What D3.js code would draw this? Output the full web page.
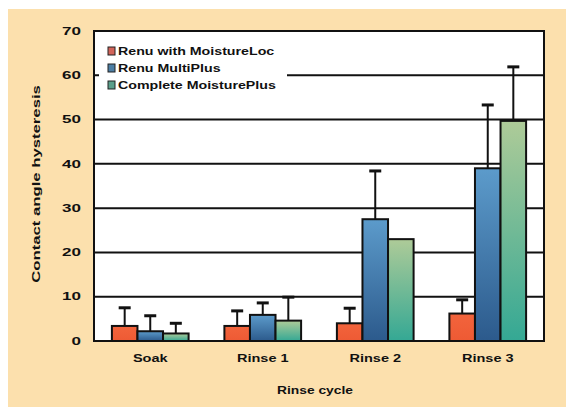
<!DOCTYPE html>
<html>
<head>
<meta charset="utf-8">
<script src="https://cdn.jsdelivr.net/npm/d3@7"></script>
<style>
  html, body { margin: 0; padding: 0; background: #ffffff; }
  text { font-family: "Liberation Sans", Arial, sans-serif; font-weight: bold; fill: #111; }
</style>
</head>
<body>
<div id="chart"></div>
<script>
// data
var categories = ['Soak', 'Rinse 1', 'Rinse 2', 'Rinse 3'];
var series = ['Renu with MoistureLoc', 'Renu MultiPlus', 'Complete MoisturePlus'];
var renuMoistureLoc = [3.4, 3.4, 4.0, 6.2];
var renuMoistureLocErr = [4.1, 3.4, 3.4, 3.1];
var renuMultiPlus = [2.2, 5.9, 27.5, 39.0];
var renuMultiPlusErr = [3.5, 2.7, 10.9, 14.3];
var completeMoisturePlus = [1.7, 4.6, 23.0, 49.7];
var completeMoisturePlusErr = [2.3, 5.3, 0, 12.2];
var yTicks = [0, 10, 20, 30, 40, 50, 60, 70];

var values = [renuMoistureLoc, renuMultiPlus, completeMoisturePlus];
var errors = [renuMoistureLocErr, renuMultiPlusErr, completeMoisturePlusErr];

var chart_width = 566;
var chart_height = 407;
var plot = { left: 94, right: 544, top: 31, bottom: 341 };

var svg = d3.select('#chart')
  .append('svg')
  .attr('width', chart_width)
  .attr('height', chart_height);

// gradients for the bars
var defs = svg.append('defs');
function vGrad(id, top, bottom) {
  var g = defs.append('linearGradient').attr('id', id)
    .attr('x1', 0).attr('y1', 0).attr('x2', 0).attr('y2', 1);
  g.append('stop').attr('offset', '0%').attr('stop-color', top);
  g.append('stop').attr('offset', '100%').attr('stop-color', bottom);
}
vGrad('gRed', '#f2643c', '#ee5a34');
vGrad('gBlue', '#5c9bcb', '#2c5a8c');
vGrad('gGreen', '#aecb98', '#34a894');
var fills = ['url(#gRed)', 'url(#gBlue)', 'url(#gGreen)'];
var legendFills = ['#d2645a', '#4c7ea4', '#5a9e8a'];

// stretch text horizontally, the source font is very wide
function stretch(sel, k) {
  sel.each(function() {
    var w = this.getComputedTextLength();
    d3.select(this).attr('textLength', w * k).attr('lengthAdjust', 'spacingAndGlyphs');
  });
}

// background
svg.append('rect')
  .attr('x', 8).attr('y', 9)
  .attr('width', chart_width - 8).attr('height', chart_height - 9)
  .attr('fill', '#fce0ad');
svg.append('rect')
  .attr('x', plot.left).attr('y', plot.top)
  .attr('width', plot.right - plot.left).attr('height', plot.bottom - plot.top)
  .attr('fill', '#ffffff');

// scales
var y_scale = d3.scaleLinear().domain([0, 70]).range([plot.bottom, plot.top]);
var x0 = d3.scaleBand().domain(categories).range([plot.left, plot.right]).padding(0);
var x1 = d3.scaleBand().domain(series).range([0, x0.bandwidth()])
  .paddingInner(0).paddingOuter(0.7);

// gridlines
svg.append('g')
  .selectAll('line')
  .data(yTicks.filter(function(t) { return t > 0 && t < 70; }))
  .enter()
  .append('line')
  .attr('x1', plot.left).attr('x2', plot.right)
  .attr('y1', function(d) { return y_scale(d); })
  .attr('y2', function(d) { return y_scale(d); })
  .attr('stroke', '#111').attr('stroke-width', 2);

// y axis labels
var yAxis = d3.axisLeft(y_scale).tickValues(yTicks).tickSize(0).tickPadding(13);
var yg = svg.append('g')
  .attr('transform', 'translate(' + plot.left + ',0)')
  .call(yAxis);
yg.select('.domain').remove();
yg.selectAll('text')
  .attr('font-size', 10)
  .attr('font-family', null)
  .call(stretch, 1.7);

// bars
var groups = svg.append('g')
  .selectAll('g')
  .data(categories)
  .enter()
  .append('g')
  .attr('transform', function(d) { return 'translate(' + x0(d) + ',0)'; });

series.forEach(function(s, si) {
  groups.append('rect')
    .attr('x', x1(s))
    .attr('y', function(d, i) { return y_scale(values[si][i]); })
    .attr('width', x1.bandwidth())
    .attr('height', function(d, i) { return y_scale(0) - y_scale(values[si][i]); })
    .attr('fill', fills[si])
    .attr('stroke', '#111')
    .attr('stroke-width', 2);

  var eb = groups.filter(function(d, i) { return errors[si][i] > 0; })
    .append('g');
  eb.append('line')
    .attr('x1', x1(s) + x1.bandwidth() / 2)
    .attr('x2', x1(s) + x1.bandwidth() / 2)
    .attr('y1', function(d) { var i = categories.indexOf(d); return y_scale(values[si][i]); })
    .attr('y2', function(d) { var i = categories.indexOf(d); return y_scale(values[si][i] + errors[si][i]); })
    .attr('stroke', '#111').attr('stroke-width', 2);
  eb.append('line')
    .attr('x1', x1(s) + x1.bandwidth() / 2 - 6)
    .attr('x2', x1(s) + x1.bandwidth() / 2 + 6)
    .attr('y1', function(d) { var i = categories.indexOf(d); return y_scale(values[si][i] + errors[si][i]); })
    .attr('y2', function(d) { var i = categories.indexOf(d); return y_scale(values[si][i] + errors[si][i]); })
    .attr('stroke', '#111').attr('stroke-width', 3);
});

// plot border
svg.append('rect')
  .attr('x', plot.left).attr('y', plot.top)
  .attr('width', plot.right - plot.left).attr('height', plot.bottom - plot.top)
  .attr('fill', 'none').attr('stroke', '#111').attr('stroke-width', 2);

// x labels
var x_axis = d3.axisBottom(x0).tickSize(0).tickPadding(14);
var xg = svg.append('g')
  .attr('transform', 'translate(0,' + plot.bottom + ')')
  .call(x_axis);
xg.select('.domain').remove();
xg.selectAll('text')
  .attr('font-size', 10)
  .attr('font-family', null)
  .call(stretch, 1.45);

// axis titles
svg.append('text')
  .attr('x', 315).attr('y', 394)
  .attr('text-anchor', 'middle')
  .attr('font-size', 10)
  .text('Rinse cycle')
  .call(stretch, 1.38);

svg.append('text')
  .attr('transform', 'translate(40,184) rotate(-90)')
  .attr('text-anchor', 'middle')
  .attr('font-size', 10)
  .text('Contact angle hysteresis')
  .call(stretch, 1.67);

// legend
var legend = svg.append('g');
legend.append('rect')
  .attr('x', 99).attr('y', 40)
  .attr('width', 188).attr('height', 56)
  .attr('fill', '#ffffff');
var items = legend.selectAll('g.item')
  .data(series)
  .enter()
  .append('g')
  .attr('class', 'item')
  .attr('transform', function(d, i) { return 'translate(108,' + (47 + i * 17) + ')'; });
items.append('rect')
  .attr('width', 7).attr('height', 8)
  .attr('fill', function(d, i) { return legendFills[i]; })
  .attr('stroke', '#222').attr('stroke-width', 1);
items.append('text')
  .attr('x', 10).attr('y', 8)
  .attr('font-size', 10)
  .text(function(d) { return d; })
  .call(stretch, 1.42);
</script>
</body>
</html>
